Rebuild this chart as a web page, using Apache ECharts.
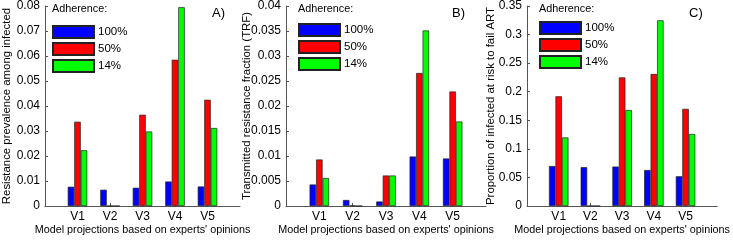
<!DOCTYPE html>
<html><head><meta charset="utf-8">
<script src="https://cdn.jsdelivr.net/npm/echarts@6/dist/echarts.min.js"></script>
<style>html,body{margin:0;padding:0;background:#fff}#c{width:733px;height:241px}</style>
</head><body><div id="c"></div>
<script>
const categories = ['V1','V2','V3','V4','V5'];
const seriesNames = ['100%','50%','14%'];
const colors = ['#0000ff','#ff0000','#00ff00'];
const xTitle = "Model projections based on experts' opinions";

// Panel A: Resistance prevalence among infected
const a100 = [0.0077, 0.0065, 0.0073, 0.0098, 0.0078];
const a50  = [0.0337, 0, 0.0365, 0.0585, 0.0425];
const a14  = [0.0223, 0, 0.0298, 0.0795, 0.0312];
// Panel B: Transmitted resistance fraction
const b100 = [0.0043, 0.0012, 0.0009, 0.0099, 0.0095];
const b50  = [0.0093, 0.0001, 0.0061, 0.0266, 0.0229];
const b14  = [0.0056, 0, 0.0061, 0.0351, 0.0169];
// Panel C: Proportion at risk to fail ART
const c100 = [0.070, 0.068, 0.069, 0.063, 0.052];
const c50  = [0.192, 0, 0.225, 0.231, 0.170];
const c14  = [0.120, 0, 0.168, 0.325, 0.126];

const yTitles = ['Resistance prevalence among infected','Transmitted resistance fraction (TRF)','Proportion of infected at risk to fail ART'];
const yMax = [0.08, 0.04, 0.35];
const yStep = [0.01, 0.005, 0.05];
const panelLabels = ['A)','B)','C)'];

const panels = [[a100,a50,a14],[b100,b50,b14],[c100,c50,c14]];
const gridLeft = [40, 286, 527];
const gridWidth = [200, 200, 198];
const labelOffset = [172, 166, 162];
const FONT = 'Liberation Sans, Arial, sans-serif';
const axisCol = '#555';

const grid=[], xAxis=[], yAxis=[], series=[], legend=[], graphic=[];
const padCats = ['', ...categories, ''];
panels.forEach((p, k) => {
  grid.push({left: gridLeft[k], width: gridWidth[k], top: 6, height: 200, containLabel: false});
  xAxis.push({type:'category', gridIndex:k, data: padCats, boundaryGap:false,
    axisLine:{lineStyle:{color:axisCol}},
    axisTick:{inside:true, length:3, lineStyle:{color:axisCol}, interval:(i)=>i>0&&i<padCats.length-1},
    axisLabel:{color:'#000', fontSize:12, fontFamily:FONT, margin:5, interval:0},
    name:xTitle, nameLocation:'middle', nameGap:19, nameMoveOverlap:false,
    nameTextStyle:{color:'#000', fontSize:10.8, fontFamily:FONT}});
  yAxis.push({type:'value', gridIndex:k, min:0, max:yMax[k], interval:yStep[k],
    axisLine:{show:true, lineStyle:{color:axisCol}},
    axisTick:{show:true, inside:true, length:3, lineStyle:{color:axisCol}},
    splitLine:{show:false},
    axisLabel:{color:'#000', fontSize:12, fontFamily:FONT, margin:5},
    name:yTitles[k], nameLocation:'middle', nameGap:[33,34,31][k], nameMoveOverlap:false,
    nameTextStyle:{color:'#000', fontSize:11.4, fontFamily:FONT}});
  p.forEach((vals, j) => {
    series.push({type:'bar', name:seriesNames[j], xAxisIndex:k, yAxisIndex:k,
      data:[null, ...vals, null], barWidth:6.5, barGap:'0%',
      itemStyle:{color:colors[j], borderColor:'#222', borderWidth:0.7},
      animation:false});
  });
  legend.push({data:seriesNames, orient:'vertical', left:gridLeft[k]+12, top:[25,23,21][k], padding:0,
    itemWidth:41, itemHeight:12, itemGap:3, icon:'rect', selectedMode:false,
    textStyle:{color:'#000', fontSize:11.5, fontFamily:FONT, padding:[0,0,0,-1]}});
  graphic.push({type:'text', left:gridLeft[k]+12, top:4,
    style:{text:'Adherence:', fill:'#000', font:'10.8px '+FONT}});
  graphic.push({type:'text', left:gridLeft[k]+labelOffset[k], top:7,
    style:{text:panelLabels[k], fill:'#000', font:'13px '+FONT}});
});

const chart = echarts.init(document.getElementById('c'), null, {renderer:'canvas'});
chart.setOption({animation:false, grid, xAxis, yAxis, series, legend, graphic});
</script></body></html>
